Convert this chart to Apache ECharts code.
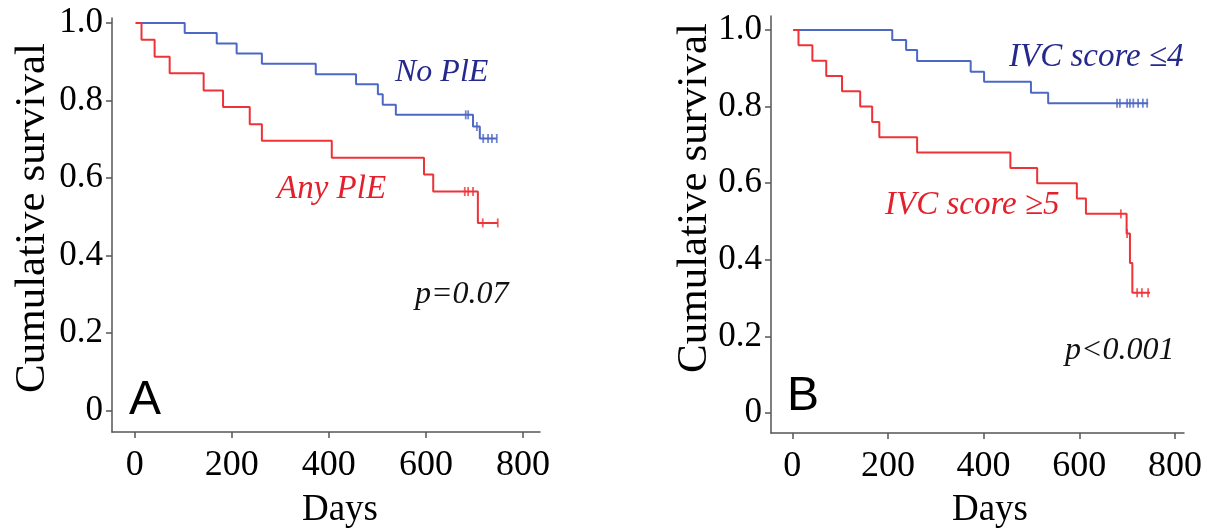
<!DOCTYPE html>
<html>
<head>
<meta charset="utf-8">
<script src="https://cdn.jsdelivr.net/npm/echarts@6/dist/echarts.min.js"></script>
<style>
html,body{margin:0;padding:0;background:#fff;}
#chart{width:1207px;height:532px;}
</style>
</head>
<body>
<div id="chart"></div>
<script>
// ---- Data ----
var xTicks = [0, 200, 400, 600, 800];
var yTicks = [0, 0.2, 0.4, 0.6, 0.8, 1.0];

// Panel A: No PlE (blue)
var aNoTimes = [103, 169, 210, 262, 373, 456, 501, 511, 538, 697, 711];
var aNoSurv  = [0.974, 0.947, 0.921, 0.895, 0.868, 0.842, 0.816, 0.789, 0.763, 0.733, 0.702];
var aNoCensor = [682, 687, 705, 718, 728, 736, 746];
var aNoEnd = 746;
// Panel A: Any PlE (red)
var aAnyTimes = [14, 41, 72, 142, 182, 237, 262, 406, 596, 615, 707];
var aAnySurv  = [0.957, 0.913, 0.870, 0.826, 0.783, 0.739, 0.696, 0.652, 0.609, 0.565, 0.484];
var aAnyCensor = [680, 687, 697, 717, 748];
var aAnyEnd = 748;

// Panel B: IVC score <=4 (blue)
var bLowTimes = [209, 238, 261, 373, 401, 499, 535];
var bLowSurv  = [0.974, 0.948, 0.919, 0.891, 0.865, 0.836, 0.809];
var bLowCensor = [679, 685, 700, 706, 713, 723, 733, 742];
var bLowEnd = 744;
// Panel B: IVC score >=5 (red)
var bHighTimes = [13, 42, 71, 104, 142, 167, 182, 261, 456, 512, 595, 614, 699, 706, 711];
var bHighSurv  = [0.96, 0.92, 0.88, 0.84, 0.80, 0.76, 0.72, 0.68, 0.64, 0.60, 0.56, 0.52, 0.469, 0.392, 0.314];
var bHighCensor = [687, 700, 721, 731, 744];
var bHighEnd = 748;

var startDay = 2;

// ---- Helpers ----
function stepData(times, surv, end) {
  var d = [[startDay, 1]];
  for (var i = 0; i < times.length; i++) d.push([times[i], surv[i]]);
  d.push([end, surv[surv.length - 1]]);
  return d;
}
function survAt(times, surv, t) {
  var s = 1;
  for (var i = 0; i < times.length; i++) { if (times[i] <= t) s = surv[i]; }
  return s;
}
function censorData(times, surv, cens) {
  return cens.map(function (t) { return [t, survAt(times, surv, t)]; });
}

var BLUE = '#4d68c4', RED = '#ee3338';
var BLUE_TXT = '#25288c', RED_TXT = '#e3202b';
var AXIS = '#555';
var SERIF = '"Liberation Serif", "DejaVu Serif", serif';

function xAxisCfg(gi, min, max) {
  return {
    gridIndex: gi, type: 'value', min: min, max: max,
    axisLine: { show: true, onZero: false, lineStyle: { color: AXIS, width: 1.5 } },
    axisTick: { show: true, customValues: xTicks, length: 6, lineStyle: { color: AXIS, width: 1.5 } },
    axisLabel: { customValues: xTicks, fontSize: 36, fontFamily: SERIF, color: '#000', margin: 16 },
    splitLine: { show: false }
  };
}
function yAxisCfg(gi, min, max) {
  return {
    gridIndex: gi, type: 'value', min: min, max: max,
    axisLine: { show: true, onZero: false, lineStyle: { color: AXIS, width: 1.5 } },
    axisTick: { show: true, customValues: yTicks, length: 6, lineStyle: { color: AXIS, width: 1.5 } },
    axisLabel: {
      customValues: yTicks, fontSize: 35, fontFamily: SERIF, color: '#000', margin: 9,
      formatter: function (v) { return Math.abs(v) < 1e-9 ? '0' : v.toFixed(1); }
    },
    splitLine: { show: false }
  };
}
function kmLine(xi, data, color) {
  return {
    type: 'line', xAxisIndex: xi, yAxisIndex: xi, step: 'end', data: data,
    showSymbol: false, symbol: 'none', animation: false,
    lineStyle: { color: color, width: 2 }, z: 3
  };
}
function censorSeries(xi, data, color) {
  return {
    type: 'scatter', xAxisIndex: xi, yAxisIndex: xi, data: data,
    symbol: 'rect', symbolSize: [1.8, 9], animation: false,
    itemStyle: { color: color }, z: 4
  };
}
function txt(x, y, s, font, color, align, rot) {
  return {
    type: 'text', x: x, y: y, rotation: rot || 0,
    style: { text: s, font: font, fill: color, align: align || 'left', verticalAlign: 'middle' }
  };
}

var chart = echarts.init(document.getElementById('chart'), null, { renderer: 'canvas' });
chart.setOption({
  animation: false,
  backgroundColor: '#fff',
  grid: [
    { left: 112, top: 18, width: 428, height: 414 },
    { left: 771, top: 16, width: 413, height: 417 }
  ],
  xAxis: [xAxisCfg(0, -46.8, 835), xAxisCfg(1, -44.5, 819)],
  yAxis: [yAxisCfg(0, -0.0555, 1.0129), yAxisCfg(1, -0.0522, 1.0366)],
  series: [
    kmLine(0, stepData(aNoTimes, aNoSurv, aNoEnd), BLUE),
    kmLine(0, stepData(aAnyTimes, aAnySurv, aAnyEnd), RED),
    censorSeries(0, censorData(aNoTimes, aNoSurv, aNoCensor), BLUE),
    censorSeries(0, censorData(aAnyTimes, aAnySurv, aAnyCensor), RED),
    kmLine(1, stepData(bLowTimes, bLowSurv, bLowEnd), BLUE),
    kmLine(1, stepData(bHighTimes, bHighSurv, bHighEnd), RED),
    censorSeries(1, censorData(bLowTimes, bLowSurv, bLowCensor), BLUE),
    censorSeries(1, censorData(bHighTimes, bHighSurv, bHighCensor), RED)
  ],
  graphic: [
    txt(33, 218, 'Cumulative survival', '43px ' + SERIF, '#000', 'center', Math.PI / 2),
    txt(695, 198, 'Cumulative survival', '43px ' + SERIF, '#000', 'center', Math.PI / 2),
    txt(340, 510, 'Days', '37px ' + SERIF, '#000', 'center'),
    txt(990, 510, 'Days', '37px ' + SERIF, '#000', 'center'),
    txt(395, 73, 'No PlE', 'italic 32px ' + SERIF, BLUE_TXT),
    txt(277, 189, 'Any PlE', 'italic 33px ' + SERIF, RED_TXT),
    txt(415, 295, 'p=0.07', 'italic 32px ' + SERIF, '#111'),
    txt(1009, 57, 'IVC score ≤4', 'italic 33px ' + SERIF, BLUE_TXT),
    txt(885, 205, 'IVC score ≥5', 'italic 33px ' + SERIF, RED_TXT),
    txt(1065, 351, 'p<0.001', 'italic 32px ' + SERIF, '#111'),
    txt(129, 401, 'A', '48px "Liberation Sans", Arial, sans-serif', '#000'),
    txt(787, 397, 'B', '48px "Liberation Sans", Arial, sans-serif', '#000')
  ]
});
</script>
</body>
</html>
